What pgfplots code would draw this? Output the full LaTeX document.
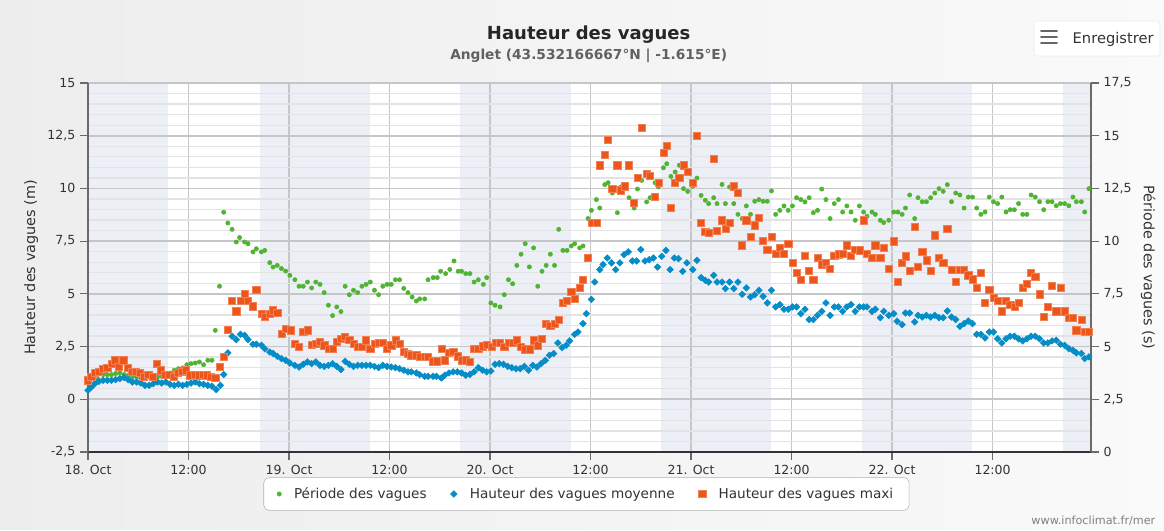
\documentclass[border=0pt]{standalone}
\usepackage{fontspec}
\setmainfont{DejaVu Sans}
\usepackage{pgfplots}
\pgfplotsset{compat=1.18}
\definecolor{hcgreen}{HTML}{50B432}
\definecolor{hcblue}{HTML}{058DC7}
\definecolor{hcorange}{HTML}{ED561B}
\definecolor{band}{HTML}{ECEFF6}
\definecolor{gridmaj}{HTML}{C6C6C6}
\definecolor{gridmin}{HTML}{E3E3E3}
\definecolor{axisc}{HTML}{6A6A6A}
\definecolor{txt}{HTML}{333333}
\pgfkeys{/pgf/number format/.cd, use comma, 1000 sep={}, assume math mode=true}
\pgfplotsset{
  common/.style={
    at={(66pt,57.75pt)}, anchor=south west,
    scale only axis, width=752.25pt, height=276.75pt,
    xmin=0, xmax=119.75, clip=false,
    tick align=outside, major tick length=6pt, minor tick length=0pt,
    tick style={draw=axisc, line width=0.9pt},
    ticklabel style={font=\fontsize{9.4}{11}\selectfont, text=txt},
    label style={font=\fontsize{10.8}{13}\selectfont, text=txt},
  }
}
\begin{document}
\begin{tikzpicture}
\shade[left color=black!7, right color=black!2] (0pt,0pt) rectangle (873pt,396.75pt);
% background and night bands
\begin{axis}[common, hide axis, ymin=0, ymax=17.5]
\addplot[fill=white, draw=none] coordinates {(0,0) (119.75,0) (119.75,17.5) (0,17.5)};
\addplot[fill=band, draw=none] coordinates {(0,0) (9.55,0) (9.55,17.5) (0,17.5)};
\addplot[fill=band, draw=none] coordinates {(20.54,0) (33.67,0) (33.67,17.5) (20.54,17.5)};
\addplot[fill=band, draw=none] coordinates {(44.42,0) (57.67,0) (57.67,17.5) (44.42,17.5)};
\addplot[fill=band, draw=none] coordinates {(68.42,0) (81.55,0) (81.55,17.5) (68.42,17.5)};
\addplot[fill=band, draw=none] coordinates {(92.42,0) (105.55,0) (105.55,17.5) (92.42,17.5)};
\addplot[fill=band, draw=none] coordinates {(116.42,0) (119.75,0) (119.75,17.5) (116.42,17.5)};
\end{axis}
% right axis: grid, period
\begin{axis}[common,
  ymin=0, ymax=17.5,
  axis x line*=bottom, axis y line*=right,
  x axis line style={-, draw=txt, line width=1.3pt},
  y axis line style={-, draw=axisc, line width=1.5pt},
  xtick={0,12,...,108},
  xticklabels={18. Oct,12:00,19. Oct,12:00,20. Oct,12:00,21. Oct,12:00,22. Oct,12:00},
  ytick={0,2.5,...,17.5},
  minor y tick num=4,
  xmajorgrids, ymajorgrids, yminorgrids,
  major grid style={draw=gridmaj, line width=1.2pt},
  minor grid style={draw=gridmin, line width=1pt},
  ylabel={Période des vagues (s)},
  ylabel style={rotate=180},
]
\addplot[only marks, mark=*, mark size=1.6pt, color=hcgreen] coordinates {
(1.2,3.45)(1.8,3.67)(2.3,3.67)(2.8,3.67)(3.3,3.72)(3.8,3.75)(4.3,3.67)(4.8,3.64)(5.3,3.56)(5.8,3.56)(6.3,3.51)(6.8,3.48)(7.3,3.56)(7.8,3.64)(8.3,3.56)(8.8,3.59)(9.3,3.68)(9.8,3.75)(10.3,3.88)(10.8,3.95)(11.3,3.99)(11.8,4.14)(12.3,4.19)(12.8,4.22)(13.3,4.27)(13.8,4.14)(14.3,4.35)(14.8,4.35)(15.2,5.77)(15.7,7.86)(16.2,11.37)(16.7,10.86)(17.2,10.56)(17.7,9.96)(18.1,10.17)(18.7,9.96)(19.1,9.88)(19.7,9.49)(20.1,9.64)(20.7,9.49)(21.1,9.56)(21.7,8.98)(22.1,8.77)(22.6,8.85)(23.1,8.70)(23.6,8.58)(24.1,8.38)
(24.7,8.17)(25.2,7.86)(25.7,7.86)(26.2,8.06)(26.7,7.78)(27.2,8.06)(27.7,7.95)(28.2,7.56)(28.7,6.96)(29.2,6.47)(29.7,6.88)(30.2,6.66)(30.7,7.86)(31.2,7.46)(31.7,7.67)(32.2,7.56)(32.7,7.86)(33.2,7.95)(33.7,8.06)(34.2,7.67)(34.7,7.46)(35.2,7.86)(35.7,7.95)(36.2,7.95)(36.7,8.17)(37.2,8.17)(37.7,7.76)(38.2,7.56)(38.7,7.35)(39.2,7.16)(39.6,7.26)(40.2,7.26)(40.6,8.17)(41.2,8.27)(41.7,8.27)(42.1,8.57)(42.7,8.46)(43.2,8.66)(43.7,9.06)(44.2,8.57)(44.6,8.57)(45.1,8.46)(45.6,8.46)(46.1,8.06)(46.6,8.17)(47.2,7.95)(47.6,8.27)
(48.1,7.07)(48.6,6.96)(49.2,6.88)(49.7,7.46)(50.2,8.17)(50.7,7.98)(51.2,8.85)(51.7,9.38)(52.2,9.88)(52.7,8.78)(53.2,9.68)(53.7,7.86)(54.2,8.57)(54.7,8.85)(55.2,9.38)(55.7,8.85)(56.2,10.56)(56.7,9.56)(57.2,9.56)(57.7,9.77)(58.1,9.88)(58.7,9.68)(59.1,9.77)(59.7,11.07)(60.1,11.46)(60.7,11.97)(61.1,11.57)(61.7,12.68)(62.1,12.77)(62.6,12.28)(63.2,11.35)(63.6,12.57)(64.1,12.65)(64.6,12.06)(65.2,11.57)(65.6,12.47)(66.1,12.88)(66.7,11.86)(67.1,12.06)(67.7,12.77)(68.1,12.57)(68.7,13.48)(69.1,13.67)(69.6,13.07)(70.1,13.28)(70.6,13.60)(71.1,12.49)(71.6,12.36)
(72.2,12.60)(72.7,12.99)(73.2,12.17)(73.7,11.94)(74.1,11.78)(74.7,12.06)(75.1,11.78)(75.7,12.69)(76.1,11.78)(76.6,12.57)(77.1,11.78)(77.6,11.27)(78.1,11.07)(78.6,11.67)(79.1,11.27)(79.6,11.89)(80.1,11.97)(80.6,11.89)(81.1,11.89)(81.6,12.38)(82.1,11.27)(82.6,11.46)(83.1,11.67)(83.6,11.46)(84.1,11.67)(84.6,12.06)(85.1,11.97)(85.6,11.86)(86.1,12.06)(86.6,11.35)(87.1,11.46)(87.6,12.47)(88.1,11.97)(88.6,11.07)(89.1,11.78)(89.6,11.97)(90.1,11.38)(90.6,11.67)(91.1,11.38)(91.6,10.99)(92.1,11.67)(92.6,11.38)(93.0,11.18)(93.6,11.38)(94.0,11.27)(94.6,10.99)(95.0,10.88)(95.6,10.99)
(96.2,11.38)(96.7,11.38)(97.2,11.27)(97.6,11.57)(98.1,12.19)(98.7,11.07)(99.1,12.06)(99.6,11.87)(100.1,11.87)(100.6,12.06)(101.1,12.28)(101.6,12.49)(102.1,12.36)(102.6,12.68)(103.1,11.87)(103.6,12.28)(104.1,12.19)(104.6,11.57)(105.1,12.09)(105.6,12.09)(106.1,11.57)(106.6,11.27)(107.1,11.38)(107.6,12.09)(108.1,11.87)(108.6,11.78)(109.1,12.09)(109.6,11.38)(110.1,11.49)(110.6,11.49)(111.1,11.78)(111.6,11.27)(112.1,11.27)(112.6,12.19)(113.1,12.09)(113.6,11.87)(114.1,11.49)(114.6,11.87)(115.1,11.87)(115.6,11.68)(116.1,11.78)(116.6,11.78)(117.1,11.68)(117.6,12.09)(118.0,11.87)(118.6,11.87)(119.0,11.38)(119.5,12.49)
};
\end{axis}
% left axis: heights
\begin{axis}[common,
  ymin=-2.5, ymax=15,
  axis x line=none, axis y line*=left,
  y axis line style={-, draw=axisc, line width=1.5pt},
  ytick={-2.5,0,...,15},
  ylabel={Hauteur des vagues (m)},
  legend columns=3,
  legend cell align=left,
  legend style={at={(0.497,-0.1138)}, anchor=center, draw=gray!60, rounded corners=4pt, fill=white,
    font=\fontsize{10.2}{12}\selectfont, text=txt, inner xsep=10pt, inner ysep=5.5pt,
    /tikz/every odd column/.append style={column sep=7.5pt},
    /tikz/every even column/.append style={column sep=16pt}},
]
\addlegendimage{only marks, mark=*, mark size=1.6pt, color=hcgreen}
\addlegendentry{Période des vagues}
\addplot[only marks, mark=square*, mark size=1.75pt, mark options={rotate=45}, color=hcblue] coordinates {
(0.0,0.43)(0.4,0.58)(0.8,0.74)(1.3,0.85)(1.8,0.90)(2.3,0.90)(2.8,0.90)(3.3,0.93)(3.8,0.98)(4.3,1.03)(4.8,0.93)(5.3,0.82)(5.8,0.82)(6.3,0.77)(6.8,0.66)(7.3,0.66)(7.8,0.74)(8.3,0.82)(8.8,0.77)(9.3,0.82)(9.8,0.71)(10.3,0.66)(10.8,0.71)(11.3,0.66)(11.8,0.71)(12.3,0.77)(12.8,0.82)(13.3,0.74)(13.8,0.71)(14.3,0.66)(14.8,0.62)(15.3,0.46)(15.8,0.66)(16.2,1.17)(16.7,2.20)(17.2,2.99)(17.7,2.83)(18.2,3.08)(18.7,3.03)(19.1,2.83)(19.7,2.61)(20.1,2.61)(20.7,2.56)(21.1,2.40)(21.7,2.24)(22.1,2.17)(22.6,2.04)(23.1,1.93)(23.6,1.85)(24.1,1.72)
(24.7,1.61)(25.2,1.53)(25.7,1.66)(26.2,1.77)(26.7,1.69)(27.2,1.77)(27.7,1.61)(28.2,1.56)(28.7,1.61)(29.2,1.69)(29.7,1.56)(30.2,1.41)(30.7,1.80)(31.2,1.66)(31.7,1.56)(32.2,1.61)(32.7,1.61)(33.2,1.61)(33.7,1.61)(34.2,1.56)(34.7,1.50)(35.2,1.61)(35.7,1.56)(36.2,1.53)(36.7,1.50)(37.2,1.45)(37.7,1.38)(38.2,1.30)(38.6,1.30)(39.2,1.25)(39.6,1.17)(40.2,1.09)(40.6,1.09)(41.2,1.09)(41.6,1.09)(42.2,1.01)(42.6,1.14)(43.1,1.25)(43.6,1.30)(44.1,1.30)(44.6,1.25)(45.1,1.14)(45.6,1.18)(46.1,1.30)(46.6,1.50)(47.1,1.38)(47.6,1.30)
(48.1,1.34)(48.6,1.66)(49.1,1.69)(49.6,1.66)(50.1,1.56)(50.6,1.50)(51.1,1.45)(51.6,1.45)(52.1,1.56)(52.6,1.38)(53.1,1.61)(53.6,1.53)(54.1,1.69)(54.6,1.85)(55.1,2.09)(55.6,2.17)(56.1,2.67)(56.6,2.45)(57.1,2.56)(57.5,2.77)(58.1,3.08)(58.5,3.19)(59.1,3.59)(59.5,4.06)(60.1,4.74)(60.5,5.56)(61.1,6.15)(61.5,6.39)(62.0,6.70)(62.5,6.47)(63.0,6.15)(63.5,6.47)(64.0,6.86)(64.5,6.99)(65.0,6.56)(65.5,6.56)(66.0,7.10)(66.5,6.56)(67.0,6.62)(67.5,6.70)(68.0,6.27)(68.5,6.78)(69.0,7.06)(69.5,6.15)(70.0,6.70)(70.5,6.67)(71.0,6.07)(71.5,6.47)
(72.2,6.15)(72.7,6.59)(73.2,5.77)(73.7,5.64)(74.1,5.56)(74.7,5.88)(75.1,5.56)(75.7,5.56)(76.1,5.25)(76.6,5.56)(77.1,5.25)(77.6,5.56)(78.1,4.98)(78.6,5.28)(79.1,4.85)(79.6,4.96)(80.1,5.17)(80.6,4.88)(81.1,4.57)(81.6,5.17)(82.1,4.38)(82.6,4.49)(83.1,4.27)(83.6,4.27)(84.1,4.38)(84.6,4.38)(85.1,4.06)(85.6,4.27)(86.1,3.78)(86.6,3.78)(87.1,3.98)(87.6,4.17)(88.1,4.57)(88.6,3.98)(89.1,4.38)(89.6,4.38)(90.1,4.17)(90.6,4.38)(91.1,4.49)(91.6,4.17)(92.1,4.38)(92.6,4.38)(93.0,4.38)(93.6,4.17)(94.0,4.27)(94.6,3.87)(95.0,4.17)(95.6,3.98)
(96.2,4.06)(96.6,3.70)(97.2,3.54)(97.6,4.09)(98.1,4.09)(98.7,3.67)(99.1,3.98)(99.6,3.90)(100.1,3.98)(100.6,3.90)(101.1,3.98)(101.6,3.87)(102.1,3.87)(102.6,4.19)(103.1,3.90)(103.6,3.78)(104.1,3.46)(104.6,3.59)(105.1,3.71)(105.6,3.59)(106.1,3.08)(106.6,3.08)(107.1,2.91)(107.6,3.19)(108.1,3.19)(108.6,2.87)(109.1,2.67)(109.6,2.87)(110.1,2.99)(110.6,2.99)(111.1,2.87)(111.6,2.77)(112.1,2.87)(112.6,2.99)(113.1,2.99)(113.6,2.87)(114.1,2.67)(114.6,2.67)(115.1,2.77)(115.6,2.80)(116.1,2.61)(116.6,2.56)(117.1,2.40)(117.6,2.32)(118.0,2.20)(118.6,2.17)(119.0,1.93)(119.5,2.01)
};
\addlegendentry{Hauteur des vagues moyenne}
\addplot[only marks, mark=square*, mark size=2.7pt, color=hcorange, mark options={fill=hcorange, draw=hcorange!75!white, line width=0.4pt}] coordinates {
(0.0,0.90)(0.4,1.06)(0.8,1.25)(1.3,1.30)(1.8,1.45)(2.3,1.50)(2.8,1.69)(3.2,1.85)(3.7,1.53)(4.2,1.85)(4.7,1.49)(5.2,1.30)(5.7,1.30)(6.2,1.25)(6.7,1.06)(7.2,1.17)(7.7,1.06)(8.2,1.69)(8.7,1.38)(9.2,1.17)(9.7,1.17)(10.2,1.06)(10.7,1.25)(11.2,1.30)(11.7,1.38)(12.2,1.14)(12.7,1.17)(13.2,1.14)(13.7,1.17)(14.2,1.14)(14.7,1.06)(15.2,1.01)(15.7,1.56)(16.2,2.01)(16.7,3.30)(17.2,4.69)(17.7,4.17)(18.2,4.69)(18.7,5.01)(19.1,4.69)(19.7,4.41)(20.1,5.20)(20.7,4.06)(21.1,3.90)(21.7,4.06)(22.1,4.22)(22.6,4.09)(23.1,3.11)(23.6,3.35)
(24.2,3.27)(24.7,2.64)(25.2,2.48)(25.7,3.19)(26.2,3.27)(26.7,2.59)(27.2,2.64)(27.7,2.72)(28.2,2.56)(28.7,2.40)(29.2,2.40)(29.7,2.72)(30.2,2.88)(30.7,2.96)(31.2,2.83)(31.7,2.64)(32.2,2.48)(32.7,2.48)(33.2,2.80)(33.7,2.40)(34.2,2.64)(34.7,2.67)(35.2,2.67)(35.7,2.40)(36.2,2.56)(36.7,2.80)(37.2,2.64)(37.7,2.24)(38.2,2.17)(38.6,2.09)(39.2,2.09)(39.6,2.01)(40.2,2.01)(40.6,2.01)(41.2,1.80)(41.6,1.80)(42.2,2.40)(42.6,1.85)(43.1,2.20)(43.6,2.24)(44.1,2.04)(44.6,1.85)(45.1,1.85)(45.6,1.77)(46.1,2.40)(46.6,2.40)(47.1,2.51)(47.6,2.59)
(48.2,2.48)(48.7,2.69)(49.2,2.69)(49.7,2.48)(50.2,2.69)(50.7,2.69)(51.2,2.80)(51.7,2.48)(52.2,2.37)(52.7,2.37)(53.2,2.80)(53.7,2.56)(54.2,2.88)(54.7,3.59)(55.2,3.48)(55.7,3.59)(56.2,3.78)(56.7,4.58)(57.2,4.69)(57.7,5.09)(58.1,4.77)(58.7,5.29)(59.1,5.67)(59.7,6.70)(60.1,8.36)(60.7,8.36)(61.1,11.10)(61.7,11.60)(62.1,12.31)(62.6,9.99)(63.2,11.10)(63.6,9.91)(64.1,10.10)(64.6,11.10)(65.2,9.31)(65.6,10.49)(66.1,12.88)(66.7,10.70)(67.1,10.59)(67.7,9.59)(68.1,10.27)(68.7,11.70)(69.1,12.01)(69.6,9.09)(70.1,10.27)(70.6,10.49)(71.1,11.10)(71.6,10.78)
(72.2,10.27)(72.7,12.49)(73.2,8.36)(73.7,7.93)(74.1,7.89)(74.7,11.41)(75.1,7.98)(75.7,8.49)(76.1,8.09)(76.6,8.38)(77.1,10.10)(77.6,9.78)(78.1,7.30)(78.6,8.49)(79.1,7.70)(79.6,8.25)(80.1,8.60)(80.6,7.51)(81.1,7.10)(81.6,7.70)(82.1,6.91)(82.6,7.19)(83.1,6.91)(83.6,7.38)(84.1,6.47)(84.6,5.99)(85.1,5.67)(85.6,6.80)(86.1,6.09)(86.6,5.67)(87.1,6.72)(87.6,6.40)(88.1,6.47)(88.6,6.20)(89.1,6.80)(89.6,6.88)(90.1,6.91)(90.6,7.30)(91.1,6.80)(91.6,7.10)(92.1,7.07)(92.6,8.49)(93.0,6.91)(93.6,6.72)(94.0,7.30)(94.6,6.72)(95.0,7.19)(95.6,6.20)
(96.2,7.49)(96.7,5.59)(97.2,6.48)(97.6,6.78)(98.1,6.08)(98.7,8.17)(99.1,6.27)(99.6,6.98)(100.1,6.59)(100.6,6.08)(101.1,7.78)(101.6,6.70)(102.1,6.48)(102.6,8.09)(103.1,6.16)(103.6,5.59)(104.1,6.16)(104.6,6.16)(105.1,5.88)(105.6,5.69)(106.1,5.29)(106.6,5.99)(107.1,4.58)(107.6,5.20)(108.1,4.80)(108.6,4.69)(109.1,4.17)(109.6,4.69)(110.1,4.49)(110.6,4.38)(111.1,4.58)(111.6,5.29)(112.1,5.48)(112.6,5.99)(113.1,5.80)(113.6,4.98)(114.1,3.90)(114.6,4.38)(115.1,5.40)(115.6,4.17)(116.1,5.29)(116.6,4.17)(117.1,3.87)(117.6,3.87)(118.0,3.27)(118.6,3.78)(119.0,3.19)(119.5,3.19)
};
\addlegendentry{Hauteur des vagues maxi}
\end{axis}
% titles and decorations
\node[font=\bfseries\fontsize{13.5}{16}\selectfont, text=black!85] at (441.5pt,370.5pt) {Hauteur des vagues};
\node[font=\bfseries\fontsize{10.3}{12}\selectfont, text=black!62] at (441.5pt,354.75pt) {Anglet (43.532166667°N | -1.615°E)};
\draw[fill=white, draw=black!8, rounded corners=2pt] (775.5pt,354.75pt) rectangle (870pt,381pt);
\foreach \yy in {373.5,369,364.5} \draw[line width=2.2pt, draw=black!60, line cap=round] (781pt,\yy pt) -- (792.5pt,\yy pt);
\node[anchor=west, font=\fontsize{11}{13}\selectfont, text=txt] at (801pt,367.5pt) {Enregistrer};
\node[anchor=east, font=\fontsize{8.4}{10}\selectfont, text=black!50] at (870pt,6pt) {www.infoclimat.fr/mer};
\path (0pt,0pt) (873pt,396.75pt);
\end{tikzpicture}
\end{document}
